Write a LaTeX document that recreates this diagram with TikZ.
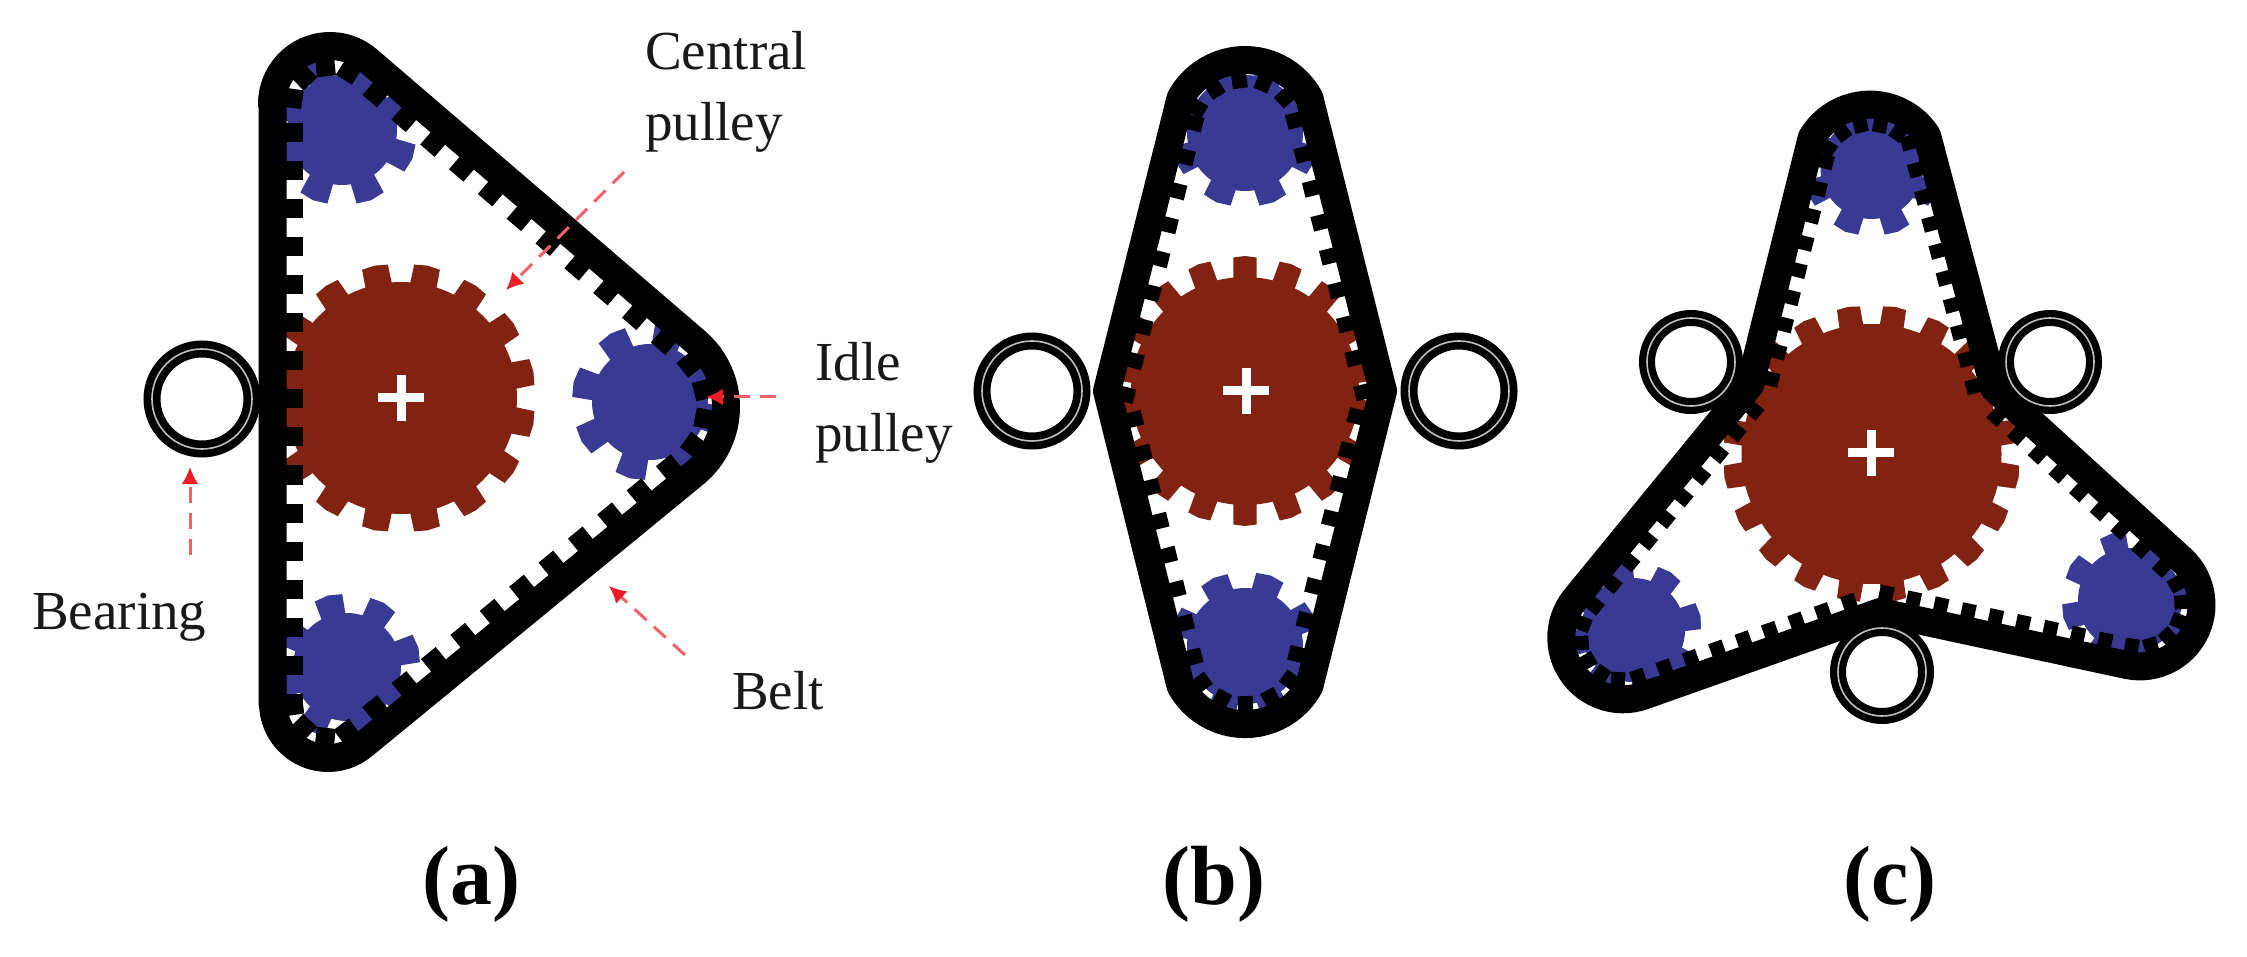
\documentclass[tikz,border=0pt]{standalone}
\usepackage{fontspec}
\setmainfont{Liberation Serif}
\usetikzlibrary{decorations.markings,arrows.meta}
\definecolor{brownG}{HTML}{822211}
\definecolor{blueG}{HTML}{383A94}
\definecolor{redD}{HTML}{F2606A}
\definecolor{redH}{HTML}{EE1C25}
\tikzset{
  beltline/.style args={#1/#2/#3}{draw=black,line width=28pt,line join=round,
    postaction={decorate,decoration={markings,
      mark=between positions 0 and 1 step #1pt with {\fill[black] (-#2/2,12) rectangle (#2/2,13+#3);}}}},
  lbl/.style={font=\fontsize{55}{71}\selectfont,align=left,inner sep=0pt,text=black!90},
  panelcap/.style={font=\fontsize{84}{94}\selectfont\bfseries,inner sep=0pt},
  leader/.style={draw=redD,line width=3pt,dash pattern=on 16pt off 10pt,-{Latex[length=17pt,width=17pt,color=redH]}},
  plusmark/.style={draw=white,line width=9pt}
}
\newcommand{\gearwheel}[7]{%
  \fill[#7] (#1,#2) circle (#3);
  \foreach \i in {1,...,#5}{%
    \pgfmathsetmacro{\aa}{#6+360*(\i-1)/#5}%
    \pgfmathsetmacro{\hh}{0.25*360/#5}%
    \fill[#7] ({#1+(#3-2)*cos(\aa-1.2*\hh)},{#2+(#3-2)*sin(\aa-1.2*\hh)})
      -- ({#1+#4*cos(\aa-\hh)},{#2+#4*sin(\aa-\hh)})
      -- ({#1+(#4+1)*cos(\aa)},{#2+(#4+1)*sin(\aa)})
      -- ({#1+#4*cos(\aa+\hh)},{#2+#4*sin(\aa+\hh)})
      -- ({#1+(#3-2)*cos(\aa+1.2*\hh)},{#2+(#3-2)*sin(\aa+1.2*\hh)}) -- cycle;
  }%
}
\newcommand{\bearing}[4]{% cx cy mid-radius ring-width
  \draw[black,line width=#4pt] (#1,#2) circle (#3);
  \draw[black!25,line width=1.6pt] (#1,#2) circle (#3);
}
\newcommand{\plussign}[2]{%
  \draw[plusmark] (#1-23,#2) -- (#1+23,#2);
  \draw[plusmark] (#1,#2-23) -- (#1,#2+23);
}
\begin{document}
\begin{tikzpicture}[x=1pt,y=-1pt]
\useasboundingbox (0,0) rectangle (2247,957);
\fill[white] (0,0) rectangle (2247,957);

% panel a
\gearwheel{401}{398}{116}{134}{16}{11.25}{brownG}
\gearwheel{342}{130}{55}{75}{8}{22.5}{blueG}
\gearwheel{650}{402}{58}{78}{8}{15}{blueG}
\gearwheel{347}{667}{54}{73}{8}{30}{blueG}
\draw[beltline=38/19/17] (272.5,703) -- (272.5,104)
  -- plot[domain=180:310.6,samples=25] ({330+58*cos(\x)},{104+58*sin(\x)})
  -- plot[domain=-49.4:50.7,samples=25] ({640+86*cos(\x)},{407+86*sin(\x)})
  -- plot[domain=50.7:180,samples=25] ({328+55*cos(\x)},{703+55*sin(\x)})
  -- cycle;
\plussign{401}{398}
\bearing{202}{399}{50}{17}

% panel b
\gearwheel{1245}{391}{114}{134}{18}{10}{brownG}
\gearwheel{1245}{133}{58}{74}{8}{22.5}{blueG}
\gearwheel{1245}{646}{58}{74}{8}{20}{blueG}
\draw[beltline=35/15/15] plot[domain=-151:-29,samples=25] ({1245+73.6*cos(\x)},{133.6+73.6*sin(\x)})
  -- (1383,391)
  -- plot[domain=29:151,samples=25] ({1245+73.6*cos(\x)},{650.5+73.6*sin(\x)})
  -- (1107,391) -- cycle;
\plussign{1246}{391}
\bearing{1032}{391}{50}{17}
\bearing{1459}{391}{50}{17}

% panel c
\gearwheel{1871.5}{454}{130}{148}{20}{9}{brownG}
\gearwheel{1871.5}{168}{51}{68}{8}{22.5}{blueG}
\gearwheel{1633}{630}{52}{68}{8}{33}{blueG}
\gearwheel{2130}{600}{52}{68}{8}{30}{blueG}
\draw[beltline=28/14/14] plot[domain=-149:-33,samples=25] ({1870+68*cos(\x)},{172.6+68*sin(\x)})
  -- (1994,388)
  -- plot[domain=-47.7:101.9,samples=30] ({2139.8+61.7*cos(\x)},{604.7+61.7*sin(\x)})
  -- (1880,612)
  -- plot[domain=70:219.3,samples=30] ({1623+61.7*cos(\x)},{637.6+61.7*sin(\x)})
  -- (1750,385) -- cycle;
\plussign{1871}{453}
\bearing{1691}{362}{44}{16}
\bearing{2050}{362}{44}{16}
\bearing{1882}{672}{44}{16}

% labels
\node[lbl,anchor=north west] (central) at (645,31) {Central\\pulley};
\node[lbl,anchor=north west] (idle) at (815,342) {Idle\\pulley};
\node[lbl,anchor=west] (bearinglabel) at (32,617) {Bearing};
\node[lbl,anchor=west] (beltlabel) at (732,691) {Belt};
\node[panelcap] (capa) at (471,884) {(a)};
\node[panelcap] (capb) at (1214,884) {(b)};
\node[panelcap] (capc) at (1890,884) {(c)};

\coordinate (centraltail) at (624,172);
\coordinate (centralhead) at (506,290);
\coordinate (idletail) at (776,397);
\coordinate (idlehead) at (706,397);
\coordinate (bearingtail) at (190,555);
\coordinate (bearinghead) at (190,467);
\coordinate (belttail) at (685,655);
\coordinate (belthead) at (609,586);
\draw[leader] (centraltail) -- (centralhead);
\draw[leader] (idletail) -- (idlehead);
\draw[leader] (bearingtail) -- (bearinghead);
\draw[leader] (belttail) -- (belthead);
\end{tikzpicture}
\end{document}
